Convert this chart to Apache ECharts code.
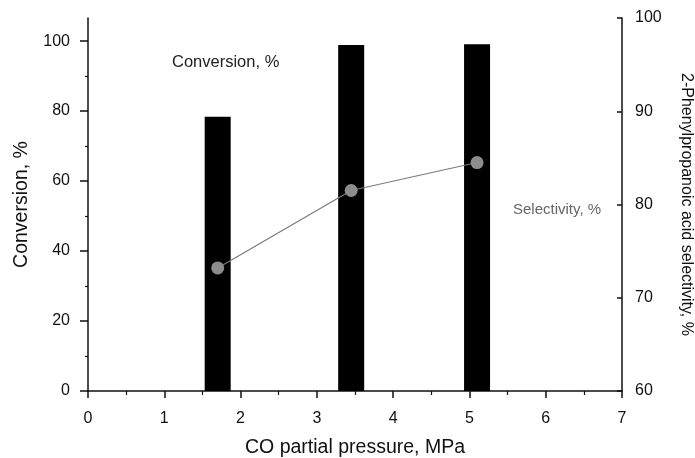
<!DOCTYPE html>
<html>
<head>
<meta charset="utf-8">
<script src="https://cdn.jsdelivr.net/npm/echarts@6/dist/echarts.min.js"></script>
<style>
  html, body { margin: 0; padding: 0; background: #fff; }
  #chart { width: 695px; height: 458px; }
</style>
</head>
<body>
<div id="chart"></div>
<script>
// CO partial pressure (MPa) for each run
const pressure = [1.7, 3.45, 5.1];
// Conversion, % (bars, left axis)
const conversion = [78.4, 98.9, 99.1];
// 2-Phenylpropanoic acid selectivity, % (points, right axis)
const selectivity = [73.2, 81.5, 84.5];
// Tick values
const leftTicks = [0, 20, 40, 60, 80, 100];
const leftMinorTicks = [10, 30, 50, 70, 90];

const FONT = '"Liberation Sans", Arial, Helvetica, sans-serif';

const chart = echarts.init(document.getElementById('chart'), null, { renderer: 'canvas' });

const barData = pressure.map((p, i) => [p, conversion[i]]);
const lineData = pressure.map((p, i) => [p, selectivity[i]]);

chart.setOption({
  animation: false,
  backgroundColor: '#fff',
  grid: { left: 88, right: 73, top: 18, bottom: 67, containLabel: false, outerBoundsMode: 'none' },
  xAxis: {
    type: 'value',
    min: 0, max: 7, interval: 1,
    name: 'CO partial pressure, MPa',
    nameLocation: 'middle',
    nameGap: 47,
    nameTextStyle: { fontFamily: FONT, fontSize: 19.5, color: '#111' },
    axisLine: { show: true, lineStyle: { color: '#111', width: 1.5 } },
    axisTick: { show: true, length: 7, lineStyle: { color: '#111', width: 1.5 } },
    minorTick: { show: true, splitNumber: 2, length: 4, lineStyle: { color: '#111', width: 1.2 } },
    axisLabel: { fontFamily: FONT, fontSize: 16, color: '#111', margin: 20 },
    splitLine: { show: false },
    minorSplitLine: { show: false }
  },
  yAxis: [
    {
      type: 'value',
      position: 'left',
      min: 0, max: 106.6, interval: 20,
      name: 'Conversion, %',
      nameLocation: 'middle',
      nameGap: 56,
      nameTextStyle: { fontFamily: FONT, fontSize: 19.5, color: '#111' },
      axisLine: { show: true, lineStyle: { color: '#111', width: 1.5 } },
      axisTick: { show: true, length: 8, customValues: leftTicks, lineStyle: { color: '#111', width: 1.5 } },
      axisLabel: { fontFamily: FONT, fontSize: 16, color: '#111', margin: 18, customValues: leftTicks },
      splitLine: { show: false }
    },
    {
      type: 'value',
      position: 'right',
      min: 60, max: 100, interval: 10,
      name: '2-Phenylpropanoic acid selectivity, %',
      nameLocation: 'middle',
      nameGap: 56,
      nameRotate: -90,
      nameTextStyle: { fontFamily: FONT, fontSize: 16, color: '#111' },
      axisLine: { show: true, lineStyle: { color: '#111', width: 1.5 } },
      axisTick: { show: true, inside: true, length: 5, lineStyle: { color: '#111', width: 1.5 } },
      axisLabel: { fontFamily: FONT, fontSize: 16, color: '#111', margin: 13 },
      splitLine: { show: false }
    },
    {
      // minor ticks of the conversion axis
      type: 'value',
      position: 'left',
      min: 0, max: 106.6,
      axisLine: { show: false },
      axisTick: { show: true, length: 3, customValues: leftMinorTicks, lineStyle: { color: '#111', width: 1.2 } },
      axisLabel: { show: false },
      splitLine: { show: false }
    }
  ],
  graphic: [
    {
      type: 'text', left: 172, top: 54,
      style: { text: 'Conversion, %', fontFamily: FONT, fontSize: 16.5, fill: '#222' }
    },
    {
      type: 'text', left: 513, top: 202,
      style: { text: 'Selectivity, %', fontFamily: FONT, fontSize: 15, fill: '#666' }
    }
  ],
  series: [
    {
      type: 'bar',
      name: 'Conversion, %',
      xAxisIndex: 0, yAxisIndex: 0,
      data: barData,
      barWidth: 26,
      itemStyle: { color: '#000' },
      z: 2
    },
    {
      type: 'line',
      name: 'Selectivity, %',
      xAxisIndex: 0, yAxisIndex: 1,
      data: lineData,
      symbol: 'circle',
      symbolSize: 13,
      itemStyle: { color: '#8c8c8c' },
      lineStyle: { color: '#7a7a7a', width: 1.2 },
      z: 3
    }
  ]
});
</script>
</body>
</html>
